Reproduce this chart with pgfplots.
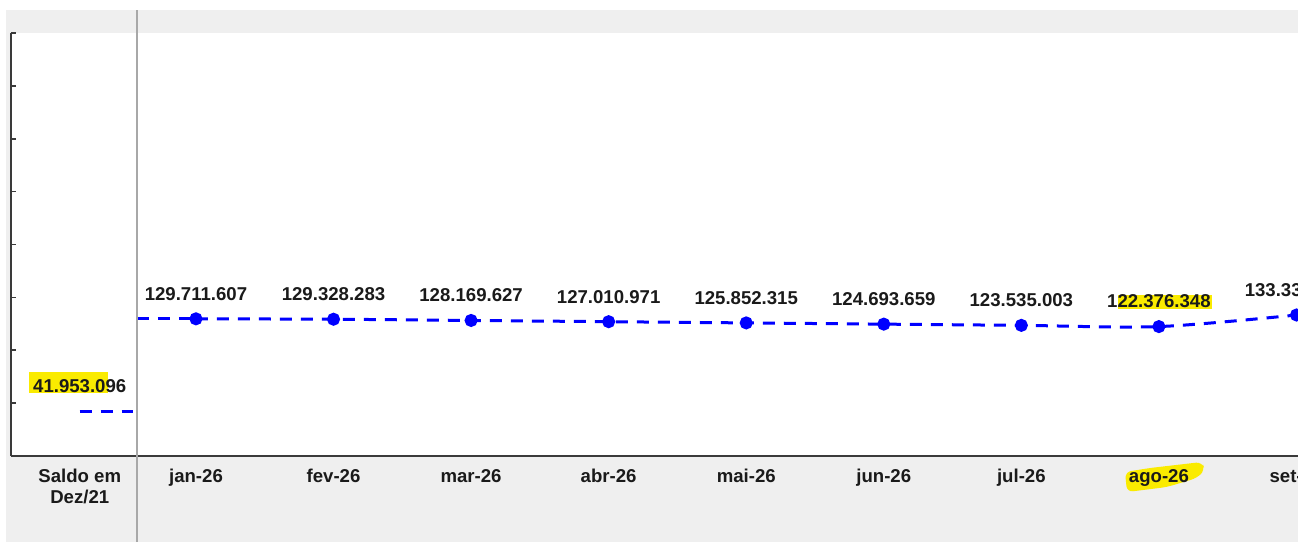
\documentclass[border=0pt]{standalone}
\usepackage{pgfplots}
\pgfplotsset{compat=1.18}
\usepackage{fontspec}
\setmainfont{Liberation Sans}
\definecolor{bggrey}{HTML}{EFEFEF}
\definecolor{divgrey}{HTML}{A8A8A8}
\definecolor{axgrey}{HTML}{3A3A3A}
\definecolor{lineblue}{HTML}{0000FF}
\definecolor{hl}{HTML}{FAEB00}
\definecolor{txt}{HTML}{1A1A1A}
\begin{document}
\begin{tikzpicture}
\clip (0,0) rectangle (649pt,271pt);
\fill[white] (0,0) rectangle (649pt,271pt);
\fill[bggrey] (3pt,0) rectangle (649pt,266pt);
% highlighter mark behind the "ago-26" tick label (outside the plot area)
\fill[hl, rounded corners=3pt] (562.5pt,35pt) -- (575pt,37pt) -- (601pt,40pt) -- (602.5pt,36pt) -- (598.5pt,32pt) -- (583.5pt,27.5pt) -- (563.5pt,25pt) -- cycle;
\begin{axis}[
  at={(5.5pt,43pt)}, anchor=south west,
  scale only axis, width=643.5pt, height=211.5pt,
  xmin=-0.3446, xmax=9.011, ymin=0, ymax=400,
  axis background/.style={fill=white},
  axis x line*=bottom, axis y line*=left,
  axis line style={axgrey, line width=0.9pt},
  tick align=inside,
  ytick={0,50,...,400}, yticklabels=\empty,
  y tick style={axgrey, line width=0.8pt}, major tick length=2.5pt,
  xtick={0.155,1,2,3,4,5,6,7,8,9},
  xticklabels={{Saldo em\\Dez/21},jan-26,fev-26,mar-26,abr-26,mai-26,jun-26,jul-26,ago-26,set-26},
  x tick style={draw=none},
  xticklabel style={font=\bfseries\fontsize{9.3}{10.5}\selectfont, text=txt, align=center, yshift=-3pt},
  clip=false,
  point meta=explicit symbolic,
  every node near coord/.append style={font=\bfseries\fontsize{9.3}{11}\selectfont, text=txt, inner sep=0pt, anchor=south, yshift=8.5pt},
]
% highlighter marks inside the plot area
\fill[hl] (-0.214,59.6) rectangle (0.3605,79.4);
\fill[hl] (7.702,139.0) rectangle (8.386,152.2);

\addplot[lineblue, line width=1.5pt, dash pattern=on 6pt off 4.5pt, point meta=none] coordinates {(0.571,129.711607) (1,129.711607)};
\addplot[lineblue, line width=1.5pt, dash pattern=on 6pt off 4.5pt, smooth, mark=*, mark size=2.5pt, mark options={solid, fill=lineblue}, nodes near coords] coordinates {
(1,129.711607) [129.711.607]
(2,129.328283) [129.328.283]
(3,128.169627) [128.169.627]
(4,127.010971) [127.010.971]
(5,125.852315) [125.852.315]
(6,124.693659) [124.693.659]
(7,123.535003) [123.535.003]
(8,122.376348) [122.376.348]
(9,133.330000) [133.330.000]
};
\addplot[lineblue, line width=1.5pt, dash pattern=on 6pt off 4.5pt, mark=none, nodes near coords] coordinates {(0.155,41.953096) [41.953.096] (0.542,41.953096) []};
\end{axis}
\draw[divgrey, line width=1pt] (68.5pt,0) -- (68.5pt,266pt);
\end{tikzpicture}
\end{document}
